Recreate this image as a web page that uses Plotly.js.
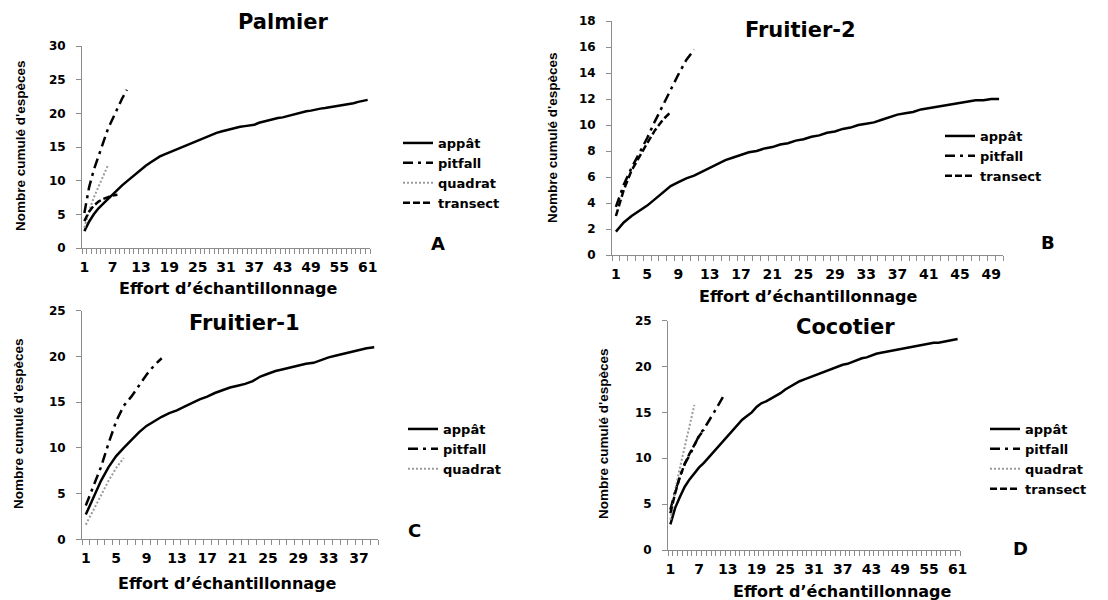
<!DOCTYPE html>
<html><head><meta charset="utf-8">
<script src="https://cdn.plot.ly/plotly-3.0.1.min.js"></script>
<style>html,body{margin:0;padding:0;background:#fff}#chart{width:1108px;height:600px}</style>
</head><body><div id="chart"></div>
<script>
// ---------- data ----------
const panelTitles = ['Palmier', 'Fruitier-2', 'Fruitier-1', 'Cocotier'];
const panelLetters = ['A', 'B', 'C', 'D'];
const methods = ['appât', 'pitfall', 'quadrat', 'transect'];
const yTitle = "Nombre cumulé d'espèces";
const xTitle = 'Effort d’échantillonnage';

const palmierAppat = [2.5,3.9,5.0,5.9,6.6,7.3,8.0,8.7,9.3,9.9,10.5,11.1,11.7,12.2,12.7,13.2,13.6,13.9,14.2,14.5,14.8,15.1,15.4,15.7,15.9,16.2,16.5,16.8,17.1,17.3,17.5,17.7,17.8,18.0,18.1,18.2,18.3,18.6,18.8,19.0,19.1,19.3,19.4,19.6,19.8,20.0,20.2,20.3,20.4,20.6,20.7,20.8,20.9,21.1,21.2,21.3,21.4,21.5,21.7,21.8,22.0];
const palmierPitfall = [5.2,9.0,11.6,13.7,15.7,17.7,19.2,20.8,22.2,23.5];
const palmierQuadrat = [3.0,5.5,7.5,9.0,10.7,12.3];
const palmierTransect = [4.0,5.4,6.3,6.9,7.3,7.6,7.8,7.9];

const fruitier2Appat = [1.8,2.5,3.0,3.4,3.8,4.3,4.8,5.3,5.6,5.9,6.1,6.4,6.7,7.0,7.3,7.5,7.7,7.9,8.0,8.2,8.3,8.5,8.6,8.8,8.9,9.1,9.2,9.4,9.5,9.7,9.8,10.0,10.1,10.2,10.4,10.6,10.8,10.9,11.0,11.2,11.3,11.4,11.5,11.6,11.7,11.8,11.9,11.9,12.0,12.0];
const fruitier2Pitfall = [3.7,5.4,6.7,7.8,9.0,10.3,11.5,12.8,13.9,15.0,15.8];
const fruitier2Transect = [3.0,5.0,6.5,7.6,8.6,9.6,10.4,11.0];

const fruitier1Appat = [2.7,4.6,6.4,7.9,9.1,10.0,10.9,11.7,12.4,12.9,13.4,13.8,14.1,14.5,14.9,15.3,15.6,16.0,16.3,16.6,16.8,17.0,17.3,17.8,18.1,18.4,18.6,18.8,19.0,19.2,19.3,19.6,19.9,20.1,20.3,20.5,20.7,20.9,21.0];
const fruitier1Pitfall = [3.7,5.8,7.9,10.5,12.9,14.6,15.6,16.8,18.0,19.0,19.8];
const fruitier1Quadrat = [1.6,3.2,4.9,6.4,7.8,8.9];

const cocotierAppat = [2.8,4.6,5.8,6.9,7.7,8.4,9.0,9.5,10.1,10.7,11.3,11.9,12.5,13.1,13.7,14.2,14.6,15.0,15.6,16.0,16.2,16.5,16.8,17.1,17.5,17.8,18.1,18.4,18.6,18.8,19.0,19.2,19.4,19.6,19.8,20.0,20.2,20.3,20.5,20.7,20.9,21.0,21.2,21.4,21.5,21.6,21.7,21.8,21.9,22.0,22.1,22.2,22.3,22.4,22.5,22.6,22.6,22.7,22.8,22.9,23.0];
const cocotierPitfall = [4.4,6.4,8.0,9.4,10.3,11.5,12.5,13.2,14.0,14.9,15.8,16.7];
const cocotierQuadrat = [3.3,6.5,9.0,11.2,13.5,15.8];
const cocotierTransect = [4.0,6.2,8.0,9.4,10.5,11.5,12.4,13.1];

const ticksA = [1,7,13,19,25,31,37,43,49,55,61];
const ticksB = [1,5,9,13,17,21,25,29,33,37,41,45,49];
const ticksC = [1,5,9,13,17,21,25,29,33,37];
const ticksD = [1,7,13,19,25,31,37,43,49,55,61];
const countA = 61, countB = 50, countC = 39, countD = 61;
const yMaxA = 30, yMaxB = 18, yMaxC = 25, yMaxD = 25;
const yStepA = 5, yStepB = 2, yStepC = 5, yStepD = 5;

// ---------- styling ----------
const W = 1108, H = 600;
const px = v => v / W;
const py = v => 1 - v / H;
const FONT = 'DejaVu Sans';
const AXIS = '#8c8c8c';
const styles = {
  'appât':   {color: '#000', width: 2.5, dash: 'solid'},
  'pitfall': {color: '#000', width: 2.5, dash: '10px,5px,3px,5px'},
  'quadrat': {color: '#9a9a9a', width: 2, dash: '2px,2px'},
  'transect':{color: '#000', width: 2.5, dash: '7px,3px'}
};

const panels = [
  {key: '', series: {'appât': palmierAppat, 'pitfall': palmierPitfall, 'quadrat': palmierQuadrat, 'transect': palmierTransect},
   box: [82, 370, 46, 248], n: countA, ticks: ticksA, ymax: yMaxA, ystep: yStepA,
   title: [283, 22], letter: [438, 243], xt: [228, 288], yt: [20, 146], leg: [398, 128]},
  {key: '2', series: {'appât': fruitier2Appat, 'pitfall': fruitier2Pitfall, 'transect': fruitier2Transect},
   box: [612, 1003, 21, 255], n: countB, ticks: ticksB, ymax: yMaxB, ystep: yStepB,
   title: [800, 30], letter: [1048, 242], xt: [808, 296], yt: [552, 138], leg: [940, 121]},
  {key: '3', series: {'appât': fruitier1Appat, 'pitfall': fruitier1Pitfall, 'quadrat': fruitier1Quadrat},
   box: [82, 378, 310.7, 539.3], n: countC, ticks: ticksC, ymax: yMaxC, ystep: yStepC,
   title: [244, 323], letter: [414, 530], xt: [227, 583], yt: [18, 424], leg: [403, 414]},
  {key: '4', series: {'appât': cocotierAppat, 'pitfall': cocotierPitfall, 'quadrat': cocotierQuadrat, 'transect': cocotierTransect},
   box: [668, 960, 320.7, 550], n: countD, ticks: ticksD, ymax: yMaxD, ystep: yStepD,
   title: [845, 327], letter: [1020, 548], xt: [842, 591], yt: [603, 434], leg: [985, 414]}
];

const data = [];
const layout = {
  width: W, height: H, margin: {l: 0, r: 0, t: 0, b: 0},
  paper_bgcolor: '#fff', plot_bgcolor: '#fff', showlegend: true,
  annotations: []
};

panels.forEach((p, i) => {
  const xa = 'xaxis' + p.key, ya = 'yaxis' + p.key;
  const xr = 'x' + p.key, yr = 'y' + p.key;
  const lg = 'legend' + p.key;
  methods.forEach(m => {
    const ys = p.series[m];
    if (!ys) return;
    data.push({
      type: 'scatter', mode: 'lines', name: m,
      x: ys.map((_, k) => k + 1), y: ys,
      xaxis: xr, yaxis: yr, legend: lg,
      line: styles[m], hoverinfo: 'x+y+name'
    });
  });
  layout[xa] = {
    domain: [px(p.box[0]), px(p.box[1])], anchor: yr,
    range: [0.5, p.n + 0.5], tickmode: 'array', tickvals: p.ticks,
    showline: true, linecolor: AXIS, linewidth: 1, ticks: '',
    showgrid: false, zeroline: false, tickfont: {family: FONT, size: 14, weight: 'bold', color: '#000'},
    ticklabelstandoff: 6,
    // Excel-style tick marks on the category boundaries
    minor: {tickmode: 'linear', tick0: 0.5, dtick: 1, ticks: 'outside', ticklen: 5, tickcolor: AXIS, tickwidth: 1, showgrid: false},
    fixedrange: true
  };
  layout[ya] = {
    domain: [py(p.box[3]), py(p.box[2])], anchor: xr,
    range: [0, p.ymax], dtick: p.ystep, tick0: 0,
    showline: true, linecolor: AXIS, linewidth: 1,
    ticks: 'outside', ticklen: 5, tickcolor: AXIS,
    showgrid: false, zeroline: false, tickfont: {family: FONT, size: 12, weight: 'bold', color: '#000'},
    ticklabelstandoff: 8, fixedrange: true
  };
  layout[lg] = {
    x: px(p.leg[0]), y: py(p.leg[1]), xanchor: 'left', yanchor: 'top',
    bgcolor: 'rgba(0,0,0,0)', borderwidth: 0, traceorder: 'normal',
    font: {family: FONT, size: 13, weight: 'bold', color: '#000'}
  };
  const ann = (pos, text, size, extra) => Object.assign({
    xref: 'paper', yref: 'paper', x: px(pos[0]), y: py(pos[1]),
    xanchor: 'center', yanchor: 'middle', showarrow: false, text: text,
    font: {family: FONT, size: size, weight: 'bold', color: '#000'}
  }, extra || {});
  layout.annotations.push(ann(p.title, panelTitles[i], 21));
  layout.annotations.push(ann(p.letter, panelLetters[i], 18));
  layout.annotations.push(ann(p.xt, xTitle, 16));
  layout.annotations.push(ann(p.yt, yTitle, 13.5, {textangle: -90,
    font: {family: 'Liberation Sans', size: 13.5, weight: 'bold', color: '#000'}}));
});

Plotly.newPlot('chart', data, layout, {displayModeBar: false, responsive: false});
</script>
</body></html>
